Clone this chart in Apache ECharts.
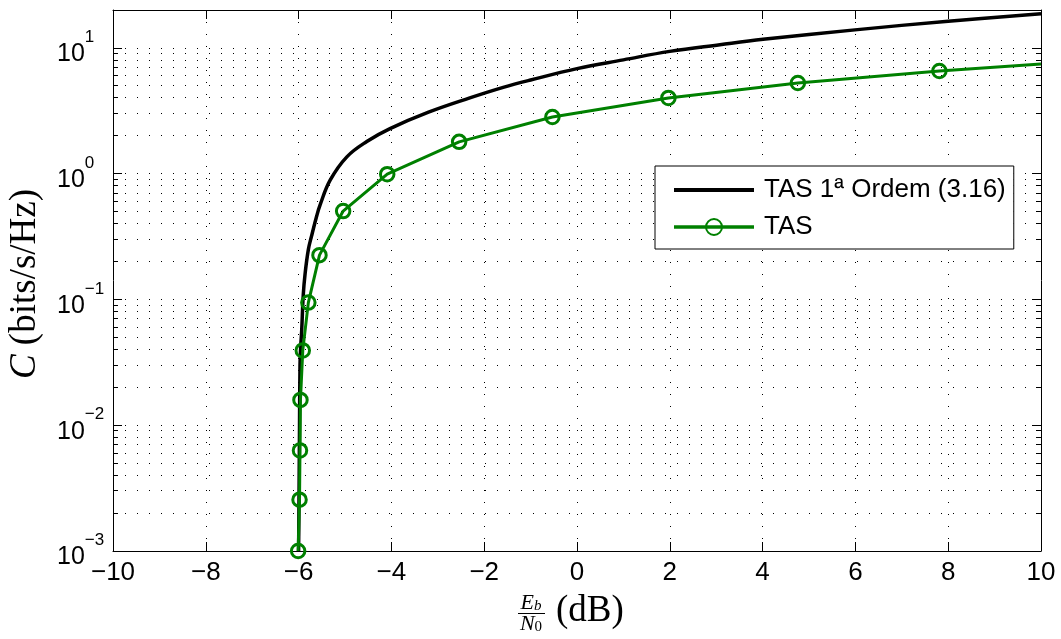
<!DOCTYPE html>
<html><head><meta charset="utf-8">
<script src="https://cdn.jsdelivr.net/npm/echarts@6/dist/echarts.min.js"></script>
<style>html,body{margin:0;padding:0;background:#fff}#chart{width:1061px;height:639px}</style>
</head><body><div id="chart"></div>
<script>
// ---- data ----
const seriesNames = ['TAS 1ª Ordem (3.16)', 'TAS'];
const xMin = -10, xMax = 10, xStep = 2;
const yMin = 0.001, yMax = 20;
const yDecades = [0.001, 0.01, 0.1, 1, 10];

const firstOrderX = [-6.0, -5.99, -5.98, -5.97, -5.955, -5.933, -5.90, -5.86, -5.79, -5.72, -5.61, -5.54, -5.32, -4.96, -4.53, -4.03, -3.2, -2.31, -1.59, -1.0, 0.0, 1.0, 2.0, 3.08, 4.01, 5.99, 8.0, 10.0];
const firstOrderY = [0.001, 0.003, 0.01, 0.03, 0.042, 0.057, 0.108, 0.16, 0.249, 0.32, 0.46, 0.56, 0.887, 1.36, 1.80, 2.28, 3.08, 4.0, 4.85, 5.55, 6.84, 8.03, 9.38, 10.6, 11.7, 13.9, 16.3, 18.7];

const tasX = [-6.01, -5.98, -5.97, -5.96, -5.91, -5.79, -5.55, -5.04, -4.09, -2.54, -0.53, 1.97, 4.76, 7.81, 10.0];
const tasY = [0.001, 0.00256, 0.0063, 0.0159, 0.0393, 0.0944, 0.225, 0.504, 0.99, 1.79, 2.82, 4.0, 5.26, 6.55, 7.45];

// ---- helpers ----
const minorVals = [];
yDecades.forEach(d => { for (let k = 2; k <= 9; k++) { const v = d * k; if (v <= yMax + 1e-9) minorVals.push(v); } });

const GREEN = '#008000';
const SANS = 'Liberation Sans';
const SERIF = 'Liberation Serif';
const gridDots = { color: '#000', width: 1, type: [1, 11] };

const chart = echarts.init(document.getElementById('chart'), null, { renderer: 'canvas' });

function crisp(y) { return Math.round(y - 0.5) + 0.5; }

const option = {
  backgroundColor: '#fff',
  animation: false,
  grid: { left: 113, right: 20, top: 10, bottom: 88, containLabel: false },
  xAxis: [
    {
      type: 'value', min: xMin, max: xMax, interval: xStep,
      axisLine: { onZero: false, lineStyle: { color: '#000', width: 1 } },
      axisTick: { inside: true, length: 9, lineStyle: { color: '#000' } },
      axisLabel: { fontFamily: SANS, fontSize: 26, color: '#000', margin: 9,
        formatter: v => v < 0 ? '\u2212' + (-v) : String(v) },
      splitLine: { show: true, lineStyle: gridDots }
    },
    {
      type: 'value', min: xMin, max: xMax, interval: xStep, position: 'top',
      axisLine: { onZero: false, lineStyle: { color: '#000', width: 1 } },
      axisTick: { inside: true, length: 9, lineStyle: { color: '#000' } },
      axisLabel: { show: false }, splitLine: { show: false }
    }
  ],
  yAxis: [
    {
      type: 'log', logBase: 10, min: yMin, max: yMax, position: 'left',
      axisLine: { onZero: false, lineStyle: { color: '#000', width: 1 } },
      axisTick: { inside: true, length: 9, lineStyle: { color: '#000' } },
      axisLabel: {
        align: 'left', margin: 56, color: '#000',
        formatter: v => {
          const e = Math.log10(v), r = Math.round(e);
          if (Math.abs(e - r) > 1e-6) return '';
          return '{b|10}{s|' + (r < 0 ? '\u2212' + (-r) : r) + '}';
        },
        rich: {
          b: { fontFamily: SANS, fontSize: 25, lineHeight: 38, verticalAlign: 'bottom', color: '#000' },
          s: { fontFamily: SANS, fontSize: 17, lineHeight: 12, verticalAlign: 'top', color: '#000' }
        }
      },
      splitLine: { show: true, lineStyle: gridDots }
    },
    {
      type: 'log', logBase: 10, min: yMin, max: yMax, position: 'right',
      axisLine: { onZero: false, lineStyle: { color: '#000', width: 1 } },
      axisTick: { inside: true, length: 9, lineStyle: { color: '#000' } },
      axisLabel: { show: false }, splitLine: { show: false }
    }
  ],
  legend: {
    data: [
      { name: seriesNames[0], itemStyle: { opacity: 0 }, lineStyle: { width: 4, color: '#000' } },
      { name: seriesNames[1], lineStyle: { width: 3.5, color: GREEN } }
    ],
    orient: 'vertical', left: 655, top: 166,
    backgroundColor: '#fff', borderColor: '#000', borderWidth: 1, borderRadius: 0,
    padding: [9, 8, 7, 17], itemGap: 7, itemWidth: 80, itemHeight: 20,
    selectedMode: false,
    textStyle: { fontFamily: SANS, fontSize: 26, color: '#000', lineHeight: 30, padding: [0, 0, 0, 5] }
  },
  series: [
    {
      type: 'custom', name: 'minorGrid', silent: true, z: 1,
      xAxisIndex: 0, yAxisIndex: 0,
      data: minorVals.map(v => [xMin, v]),
      encode: { x: 0, y: 1 },
      renderItem: (params, api) => {
        const v = api.value(1);
        const p1 = api.coord([xMin, v]);
        const p2 = api.coord([xMax, v]);
        const y = crisp(p1[1]);
        return {
          type: 'group',
          children: [
            { type: 'line', shape: { x1: p1[0], y1: y, x2: p2[0], y2: y }, style: { stroke: '#000', lineWidth: 1, lineDash: [1, 11] } },
            { type: 'line', shape: { x1: p1[0], y1: y, x2: p1[0] + 5, y2: y }, style: { stroke: '#000', lineWidth: 1 } },
            { type: 'line', shape: { x1: p2[0] - 5, y1: y, x2: p2[0], y2: y }, style: { stroke: '#000', lineWidth: 1 } }
          ]
        };
      }
    },
    {
      type: 'line', name: seriesNames[0], z: 3,
      data: firstOrderX.map((x, i) => [x, firstOrderY[i]]),
      showSymbol: false, symbol: 'none',
      smooth: 0.4,
      lineStyle: { color: '#000', width: 3.5 },
      itemStyle: { color: '#000' }
    },
    {
      type: 'line', name: seriesNames[1], z: 4,
      data: tasX.map((x, i) => (i === tasX.length - 1)
        ? { value: [x, tasY[i]], symbol: 'none' }
        : [x, tasY[i]]),
      symbol: 'circle', symbolSize: 13.5, showAllSymbol: true,
      lineStyle: { color: GREEN, width: 3 },
      itemStyle: { color: 'rgba(0,0,0,0)', borderColor: GREEN, borderWidth: 3 }
    }
  ],
  graphic: [
    {
      type: 'text', x: 25, y: 284, rotation: Math.PI / 2,
      style: {
        text: '{i|C} (bits/s/Hz)', fill: '#000', fontFamily: SERIF, fontSize: 37,
        align: 'center', verticalAlign: 'middle',
        rich: { i: { fontFamily: SERIF, fontSize: 37, fontStyle: 'italic', fill: '#000' } }
      }
    },
    {
      type: 'text', x: 531, y: 603,
      style: {
        text: '{i|E}{s|b}', fill: '#000', align: 'center', verticalAlign: 'middle',
        rich: {
          i: { fontFamily: SERIF, fontSize: 22, fontStyle: 'italic', lineHeight: 22, verticalAlign: 'top', fill: '#000' },
          s: { fontFamily: SERIF, fontSize: 15, fontStyle: 'italic', lineHeight: 12, verticalAlign: 'bottom', fill: '#000' }
        }
      }
    },
    { type: 'line', shape: { x1: 518, y1: 613.5, x2: 545, y2: 613.5 }, style: { stroke: '#000', lineWidth: 1 } },
    {
      type: 'text', x: 531, y: 624,
      style: {
        text: '{i|N}{s|0}', fill: '#000', align: 'center', verticalAlign: 'middle',
        rich: {
          i: { fontFamily: SERIF, fontSize: 22, fontStyle: 'italic', lineHeight: 22, verticalAlign: 'top', fill: '#000' },
          s: { fontFamily: SERIF, fontSize: 15, lineHeight: 12, verticalAlign: 'bottom', fill: '#000' }
        }
      }
    },
    {
      type: 'text', x: 556, y: 611,
      style: { text: '(dB)', fill: '#000', fontFamily: SERIF, fontSize: 37, align: 'left', verticalAlign: 'middle' }
    }
  ]
};
chart.setOption(option);
</script>
</body></html>
